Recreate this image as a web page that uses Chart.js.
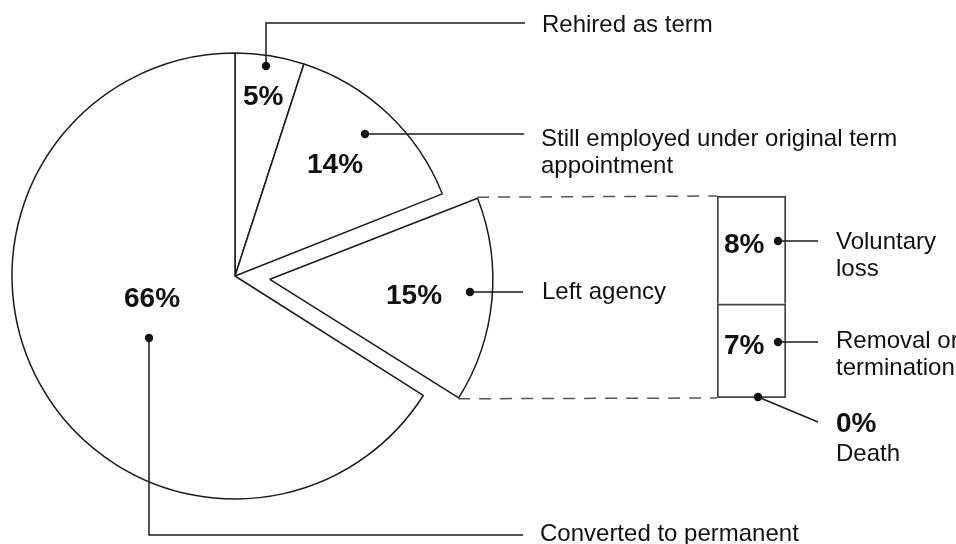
<!DOCTYPE html>
<html>
<head>
<meta charset="utf-8">
<script src="https://cdn.jsdelivr.net/npm/chart.js@4.4.1/dist/chart.umd.min.js"></script>
<style>
  html, body { margin: 0; padding: 0; background: #ffffff; }
  #wrap { position: relative; width: 956px; height: 544px; background: #ffffff; }
  #wrap canvas { position: absolute; left: 0; top: 0; }
</style>
</head>
<body>
<div id="wrap">
  <canvas id="pie" width="956" height="544"></canvas>
  <canvas id="bar" width="956" height="544"></canvas>
</div>
<script>
// ---------- data ----------
const categories = ['Rehired as term', ['Still employed under original term', 'appointment'], 'Left agency', 'Converted to permanent'];
const shares = [5, 14, 15, 66];
const explodedIndex = 2;
const leftCategories = ['Death', ['Removal or', 'termination'], ['Voluntary', 'loss']];
const leftShares = [0, 7, 8];

// ---------- style ----------
const INK = '#111111';
const LINE = '#1a1a1a';
const BOLD = 'bold 28px "Liberation Sans", Arial, sans-serif';
const REG = '24px "Liberation Sans", Arial, sans-serif';
const EXPLODE_PX = 35;

function pct(v) { return v + '%'; }
function lines(l) { return Array.isArray(l) ? l : [l]; }
function dot(ctx, x, y) { ctx.beginPath(); ctx.arc(x, y, 4.2, 0, Math.PI * 2); ctx.fillStyle = INK; ctx.fill(); }
function poly(ctx, pts) {
  ctx.beginPath(); ctx.moveTo(pts[0][0], pts[0][1]);
  for (let i = 1; i < pts.length; i++) ctx.lineTo(pts[i][0], pts[i][1]);
  ctx.strokeStyle = LINE; ctx.lineWidth = 1.5; ctx.stroke();
}
function text(ctx, str, x, y, font) {
  ctx.font = font; ctx.fillStyle = INK; ctx.textAlign = 'left'; ctx.textBaseline = 'alphabetic';
  ctx.fillText(str, x, y);
}
function textLines(ctx, arr, x, y, font, lh) { arr.forEach((s, i) => text(ctx, s, x, y + i * lh, font)); }

// keep the exploded slice at the same radius as the rest (Chart.js adds a radius fix when offsetting)
const keepRadius = {
  id: 'keepRadius',
  afterDatasetsUpdate(chart) {
    const ds = chart.data.datasets[0];
    chart.getDatasetMeta(0).data.forEach((arc, i) => {
      const off = (ds.offset[i] || 0) / 4;
      if (off > 0) {
        const fix = 1 - Math.sin(Math.min(Math.PI, arc.circumference));
        arc.outerRadius = arc.outerRadius - off * fix;
      }
    });
  }
};

// annotation layout (label anchors, not data)
const pieNotes = [
  { pctAt: [243, 105], dot: [266, 66], path: [[266, 23], [525, 23]], textAt: [542, 32] },
  { pctAt: [307, 173], dot: [365, 134], path: [[524, 134]], textAt: [541, 146] },
  { pctAt: [386, 304], dot: [470, 292], path: [[523, 292]], textAt: [542, 299] },
  { pctAt: [124, 307], dot: [149, 338], path: [[149, 535], [523, 535]], textAt: [540, 541] }
];

const pieLabels = {
  id: 'pieLabels',
  afterDraw(chart) {
    const ctx = chart.ctx;
    ctx.save();
    pieNotes.forEach((n, i) => {
      text(ctx, pct(shares[i]), n.pctAt[0], n.pctAt[1], BOLD);
      poly(ctx, [n.dot].concat(n.path));
      dot(ctx, n.dot[0], n.dot[1]);
      textLines(ctx, lines(categories[i]), n.textAt[0], n.textAt[1], REG, 27);
    });
    ctx.restore();
  }
};

const pieChart = new Chart(document.getElementById('pie'), {
  type: 'pie',
  data: {
    labels: categories,
    datasets: [{
      data: shares,
      backgroundColor: '#ffffff',
      borderColor: LINE,
      borderWidth: 1.5,
      offset: shares.map((v, i) => i === explodedIndex ? EXPLODE_PX * 4 : 0)
    }]
  },
  options: {
    responsive: false,
    animation: false,
    events: [],
    radius: 223,
    layout: { padding: { left: 0, right: 486, top: 29, bottom: 21 } },
    plugins: { legend: { display: false }, tooltip: { enabled: false } }
  },
  plugins: [keepRadius, pieLabels]
});

// ---------- breakdown bar ----------
const barNotes = [
  { pctAt: null, dot: [758, 397], path: [[818, 422]], textAt: [836, 461], bigAt: [836, 432] },
  { pctAt: [724, 354], dot: [778, 342], path: [[818, 342]], textAt: [836, 348] },
  { pctAt: [724, 253], dot: [778, 241], path: [[818, 241]], textAt: [836, 249] }
];

const barLabels = {
  id: 'barLabels',
  afterDraw(chart) {
    const ctx = chart.ctx;
    ctx.save();
    // dashed connectors from exploded slice corners to the bar
    const arc = pieChart.getDatasetMeta(0).data[explodedIndex];
    const mid = (arc.startAngle + arc.endAngle) / 2;
    const cx = arc.x + Math.cos(mid) * EXPLODE_PX;
    const cy = arc.y + Math.sin(mid) * EXPLODE_PX;
    const R = arc.outerRadius + (EXPLODE_PX) * (1 - Math.sin(Math.min(Math.PI, arc.circumference)));
    const area = chart.chartArea;
    ctx.setLineDash([12, 9]);
    ctx.strokeStyle = '#555';
    ctx.lineWidth = 1.5;
    ctx.beginPath();
    ctx.moveTo(cx + Math.cos(arc.startAngle) * R, cy + Math.sin(arc.startAngle) * R);
    ctx.lineTo(area.left, area.top);
    ctx.moveTo(cx + Math.cos(arc.endAngle) * R, cy + Math.sin(arc.endAngle) * R);
    ctx.lineTo(area.left, area.bottom);
    ctx.stroke();
    ctx.setLineDash([]);
    barNotes.forEach((n, i) => {
      if (n.pctAt) text(ctx, pct(leftShares[i]), n.pctAt[0], n.pctAt[1], BOLD);
      poly(ctx, [n.dot].concat(n.path));
      dot(ctx, n.dot[0], n.dot[1]);
      if (n.bigAt) text(ctx, pct(leftShares[i]), n.bigAt[0], n.bigAt[1], BOLD);
      textLines(ctx, lines(leftCategories[i]), n.textAt[0], n.textAt[1], REG, 27);
    });
    ctx.restore();
  }
};

const barChart = new Chart(document.getElementById('bar'), {
  type: 'bar',
  data: {
    labels: ['Left agency'],
    datasets: leftCategories.map((c, i) => ({
      label: Array.isArray(c) ? c.join(' ') : c,
      data: [leftShares[i]],
      backgroundColor: '#ffffff',
      borderColor: '#444444',
      borderWidth: 2,
      borderSkipped: i === 1 ? false : 'start',
      categoryPercentage: 1,
      barPercentage: 1
    }))
  },
  options: {
    responsive: false,
    animation: false,
    events: [],
    layout: { padding: { left: 717, right: 170, top: 196, bottom: 146 } },
    scales: {
      x: { stacked: true, display: false },
      y: { stacked: true, display: false, min: 0, max: leftShares.reduce((a, b) => a + b, 0) }
    },
    plugins: { legend: { display: false }, tooltip: { enabled: false } }
  },
  plugins: [barLabels]
});
</script>
</body>
</html>
